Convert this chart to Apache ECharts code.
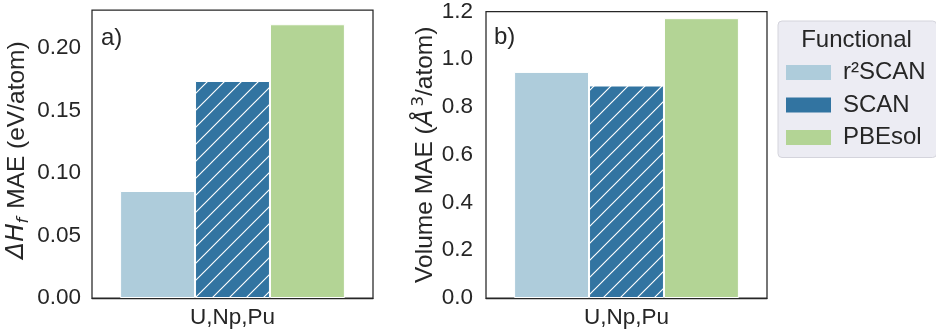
<!DOCTYPE html>
<html>
<head>
<meta charset="utf-8">
<script src="https://cdn.jsdelivr.net/npm/echarts@6/dist/echarts.min.js"></script>
<style>
html,body{margin:0;padding:0;background:#fff;}
#chart{width:936px;height:333px;}
</style>
</head>
<body>
<div id="chart"></div>
<script>
// ---- data ----
const categories = ['U,Np,Pu'];
const functionals = ['r²SCAN', 'SCAN', 'PBEsol'];
const formationMAE = [0.0856, 0.1736, 0.2190];   // eV/atom
const volumeMAE = [0.947, 0.890, 1.172];         // Å^3/atom
const formationTicks = { min: 0, max: 0.2304, interval: 0.05 };
const volumeTicks = { min: 0, max: 1.2, interval: 0.2 };
const panelLabels = ['a)', 'b)'];
const legendTitle = 'Functional';

// ---- styles ----
const FONT = '"Liberation Sans", Arial, Helvetica, sans-serif';
const MATH = '"DejaVu Sans", sans-serif';
const TXT = '#262626';
const colors = ['#aeccdb', '#3274a1', '#b3d495'];

// hatch pattern for SCAN bars
function hatch(bg) {
  const s = 17;
  const c = document.createElement('canvas');
  c.width = s; c.height = s;
  const g = c.getContext('2d');
  g.fillStyle = bg; g.fillRect(0, 0, s, s);
  g.strokeStyle = '#ffffff'; g.lineWidth = 1.15;
  g.beginPath();
  g.moveTo(-1, s + 1); g.lineTo(s + 1, -1);
  g.moveTo(-2, 2); g.lineTo(2, -2);
  g.moveTo(s - 2, s + 2); g.lineTo(s + 2, s - 2);
  g.stroke();
  return { image: c, repeat: 'repeat' };
}
const fills = [colors[0], hatch(colors[1]), colors[2]];

const grids = [
  { left: 92, top: 10, width: 281, height: 288 },
  { left: 486, top: 10, width: 281, height: 288 }
];

function xAx(i) {
  return {
    type: 'category', gridIndex: i, data: categories, z: 5,
    axisLine: { show: true, lineStyle: { color: TXT, width: 1.25 } },
    axisTick: { show: false },
    axisLabel: { color: TXT, fontSize: 22.5, fontFamily: FONT, margin: 8 },
    splitLine: { show: false }
  };
}
function yAx(i, t, digits, name, gap, margin, showMax, namePad, rich) {
  return {
    type: 'value', gridIndex: i, min: t.min, max: t.max, interval: t.interval,
    name: name, nameLocation: 'middle', nameGap: gap, nameRotate: 90,
    nameTextStyle: { color: TXT, fontSize: 24.5, fontFamily: FONT, padding: namePad, rich: rich },
    axisLine: { show: false }, axisTick: { show: false },
    splitLine: { show: false },
    axisLabel: {
      color: TXT, fontSize: 22.5, fontFamily: FONT, margin: margin,
      padding: [2.6, 0, 0, 0],
      showMaxLabel: showMax,
      formatter: v => v.toFixed(digits)
    }
  };
}
const richBase = {
  n: { fontSize: 24.5, fontFamily: FONT, color: TXT, lineHeight: 30, verticalAlign: 'middle' },
  it: { fontSize: 24.5, fontFamily: MATH, color: TXT, fontStyle: 'italic', lineHeight: 30, verticalAlign: 'middle' },
  sub: { fontSize: 16.5, fontFamily: MATH, color: TXT, fontStyle: 'italic', verticalAlign: 'bottom', padding: [0, 2, 0, 0] },
  sup: { fontSize: 16.5, fontFamily: MATH, color: TXT, verticalAlign: 'top', padding: [0, 0, 0, 3] }
};

const series = [];
[formationMAE, volumeMAE].forEach((vals, gi) => {
  functionals.forEach((f, k) => {
    series.push({
      type: 'bar', name: f, xAxisIndex: gi, yAxisIndex: gi,
      data: [vals[k]],
      barGap: '0%', barCategoryGap: '20%',
      itemStyle: { color: fills[k], borderColor: '#ffffff', borderWidth: 1 },
      emphasis: { disabled: true }
    });
  });
});

const chart = echarts.init(document.getElementById('chart'), null, { renderer: 'canvas' });
chart.setOption({
  animation: false,
  backgroundColor: '#ffffff',
  textStyle: { fontFamily: FONT },
  grid: grids.map(g => Object.assign({ show: true, borderColor: TXT, borderWidth: 1.25, backgroundColor: 'transparent', containLabel: false }, g)),
  xAxis: [xAx(0), xAx(1)],
  yAxis: [
    yAx(0, formationTicks, 2, '{it|ΔH}{sub|f}{n| MAE (eV/atom)}', 60, 11, false, [0, 0, 0, 8], richBase),
    yAx(1, volumeTicks, 1, '{n|Volume MAE (}{it|Å}{sup|3}{n|/atom)}', 38, 13, true, [0, 0, 0, 0], richBase)
  ],
  legend: {
    orient: 'vertical', left: 778, top: 21,
    padding: [39.5, 11, 8, 8],
    backgroundColor: '#ececf3', borderColor: '#d4d4dc', borderWidth: 1, borderRadius: 4,
    itemWidth: 45, itemHeight: 15, itemGap: 8.5,
    icon: 'rect',
    textStyle: { color: TXT, fontSize: 24, lineHeight: 24, fontFamily: FONT, width: 81, padding: [0, 0, 0, 7] },
    data: functionals.map((f, k) => ({ name: f, itemStyle: { color: colors[k], borderWidth: 0 } }))
  },
  graphic: [
    { type: 'text', x: 101, y: 26, z: 100, style: { text: panelLabels[0], fill: TXT, font: '24px ' + FONT } },
    { type: 'text', x: 494, y: 25, z: 100, style: { text: panelLabels[1], fill: TXT, font: '24px ' + FONT } },
    { type: 'text', x: 856.5, y: 28.5, z: 100, style: { text: legendTitle, fill: TXT, font: '24px ' + FONT, align: 'center', verticalAlign: 'top' } }
  ],
  series: series
});
</script>
</body>
</html>
